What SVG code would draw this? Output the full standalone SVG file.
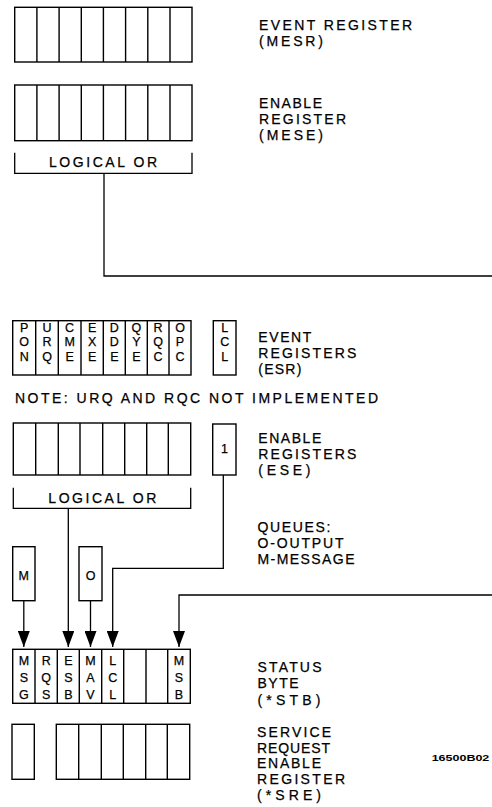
<svg xmlns="http://www.w3.org/2000/svg" width="492" height="807" viewBox="0 0 492 807">
<style>
.reg{fill:none;stroke:#000;stroke-width:1.4}
.ln{fill:none;stroke:#000;stroke-width:1.3}
.t{font-family:"Liberation Sans",Arial,sans-serif;font-size:14px;fill:#000;stroke:#000;stroke-width:0.25}
.c{font-family:"Liberation Sans",Arial,sans-serif;font-size:12.5px;fill:#000;stroke:#000;stroke-width:0.25;text-anchor:middle}
.id{font-family:"Liberation Sans",Arial,sans-serif;font-size:9px;font-weight:bold;fill:#000}
</style>
<defs>
<marker id="ah" viewBox="0 0 16 12" refX="16" refY="6" markerWidth="16" markerHeight="12" markerUnits="userSpaceOnUse" orient="auto">
<path d="M0,0 L16,6 L0,12 Z" fill="#000"/>
</marker>
</defs>
<rect width="492" height="807" fill="#fff"/>

<g id="mesr">
<rect class="reg" x="14.7" y="7.3" width="177.3" height="54.7"/>
<path class="reg" d="M36.9,7.3V62M59.1,7.3V62M81.3,7.3V62M103.4,7.3V62M125.6,7.3V62M147.8,7.3V62M170,7.3V62"/>
<text class="t" x="259" y="29.5" textLength="153" lengthAdjust="spacing">EVENT REGISTER</text>
<text class="t" x="259" y="45.7" textLength="64" lengthAdjust="spacing">(MESR)</text>
</g>

<g id="mese">
<rect class="reg" x="14.7" y="85" width="177.3" height="55.7"/>
<path class="reg" d="M36.9,85V140.7M59.1,85V140.7M81.3,85V140.7M103.4,85V140.7M125.6,85V140.7M147.8,85V140.7M170,85V140.7"/>
<text class="t" x="259" y="107.7" textLength="63" lengthAdjust="spacing">ENABLE</text>
<text class="t" x="259" y="124" textLength="87" lengthAdjust="spacing">REGISTER</text>
<text class="t" x="259" y="140.3" textLength="64" lengthAdjust="spacing">(MESE)</text>
</g>

<g id="or1">
<path class="ln" d="M14.7,152.7V173.3H192V152.7"/>
<text class="t" x="49" y="166.7" textLength="108" lengthAdjust="spacing">LOGICAL OR</text>
</g>

<g id="esr">
<rect class="reg" x="12.7" y="320.7" width="178.3" height="54.3"/>
<path class="reg" d="M35.7,320.7V375M58.3,320.7V375M81,320.7V375M103.3,320.7V375M125.3,320.7V375M147.3,320.7V375M169,320.7V375"/>
<g class="c">
<text x="24.2" y="331.5">P</text><text x="24.2" y="346">O</text><text x="24.2" y="361">N</text>
<text x="47" y="331.5">U</text><text x="47" y="346">R</text><text x="47" y="361">Q</text>
<text x="69.6" y="331.5">C</text><text x="69.6" y="346">M</text><text x="69.6" y="361">E</text>
<text x="92.1" y="331.5">E</text><text x="92.1" y="346">X</text><text x="92.1" y="361">E</text>
<text x="114.3" y="331.5">D</text><text x="114.3" y="346">D</text><text x="114.3" y="361">E</text>
<text x="136.3" y="331.5">Q</text><text x="136.3" y="346">Y</text><text x="136.3" y="361">E</text>
<text x="158.1" y="331.5">R</text><text x="158.1" y="346">Q</text><text x="158.1" y="361">C</text>
<text x="180" y="331.5">O</text><text x="180" y="346">P</text><text x="180" y="361">C</text>
</g>
</g>

<g id="lcl">
<rect class="reg" x="213.3" y="320.7" width="22.7" height="54.3"/>
<g class="c">
<text x="224.7" y="331.5">L</text><text x="224.7" y="346">C</text><text x="224.7" y="361">L</text>
</g>
<text class="t" x="258.3" y="341.7" textLength="53" lengthAdjust="spacing">EVENT</text>
<text class="t" x="258.3" y="358" textLength="98" lengthAdjust="spacing">REGISTERS</text>
<text class="t" x="258.3" y="373.5" textLength="43" lengthAdjust="spacing">(ESR)</text>
</g>

<g id="note">
<text class="t" x="15" y="402.7" textLength="363" lengthAdjust="spacing">NOTE: URQ AND RQC NOT IMPLEMENTED</text>
</g>

<g id="ese">
<rect class="reg" x="13.3" y="423" width="177.4" height="52"/>
<path class="reg" d="M35.7,423V475M58.3,423V475M80,423V475M102.7,423V475M124.7,423V475M146.7,423V475M168.3,423V475"/>
</g>

<g id="ese1">
<rect class="reg" x="212.7" y="424" width="23.3" height="51"/>
<text class="c" x="224.4" y="453">1</text>
<text class="t" x="258.3" y="442.7" textLength="63" lengthAdjust="spacing">ENABLE</text>
<text class="t" x="258.3" y="458.5" textLength="98" lengthAdjust="spacing">REGISTERS</text>
<text class="t" x="258.3" y="475" textLength="52" lengthAdjust="spacing">(ESE)</text>
</g>

<g id="or2">
<path class="ln" d="M13.3,487.7V508.3H190.7V487.7"/>
<text class="t" x="48.3" y="503.3" textLength="108" lengthAdjust="spacing">LOGICAL OR</text>
</g>

<g id="queues">
<text class="t" x="257.5" y="531.7" textLength="73" lengthAdjust="spacing">QUEUES:</text>
<text class="t" x="257.5" y="548.3" textLength="86" lengthAdjust="spacing">O-OUTPUT</text>
<text class="t" x="257.5" y="564.3" textLength="97" lengthAdjust="spacing">M-MESSAGE</text>
</g>

<g id="mq">
<rect class="reg" x="12.7" y="546.7" width="22.3" height="54"/>
<text class="c" x="23.8" y="580">M</text>
</g>

<g id="oq">
<rect class="reg" x="79" y="546.7" width="23" height="54"/>
<text class="c" x="90.5" y="580">O</text>
</g>

<g id="stb">
<rect class="reg" x="12.7" y="649.3" width="177.6" height="54"/>
<path class="reg" d="M35,649.3V703.3M57.3,649.3V703.3M79.3,649.3V703.3M101.7,649.3V703.3M123.7,649.3V703.3M146,649.3V703.3M167.7,649.3V703.3"/>
<g class="c">
<text x="23.9" y="664.5">M</text><text x="23.9" y="681.5">S</text><text x="23.9" y="699">G</text>
<text x="46.2" y="664.5">R</text><text x="46.2" y="681.5">Q</text><text x="46.2" y="699">S</text>
<text x="68.3" y="664.5">E</text><text x="68.3" y="681.5">S</text><text x="68.3" y="699">B</text>
<text x="90.5" y="664.5">M</text><text x="90.5" y="681.5">A</text><text x="90.5" y="699">V</text>
<text x="112.7" y="664.5">L</text><text x="112.7" y="681.5">C</text><text x="112.7" y="699">L</text>
<text x="179" y="664.5">M</text><text x="179" y="681.5">S</text><text x="179" y="699">B</text>
</g>
<text class="t" x="257.5" y="671.7" textLength="64" lengthAdjust="spacing">STATUS</text>
<text class="t" x="257.5" y="688.3" textLength="41" lengthAdjust="spacing">BYTE</text>
<text class="t" x="257.5" y="705" textLength="63" lengthAdjust="spacing">(*STB)</text>
</g>

<g id="sre">
<rect class="reg" x="12" y="724.3" width="22.3" height="55"/>
<rect class="reg" x="56.3" y="724.3" width="133.4" height="55"/>
<path class="reg" d="M78.7,724.3V779.3M101.3,724.3V779.3M123.3,724.3V779.3M145.7,724.3V779.3M167.3,724.3V779.3"/>
<text class="t" x="257" y="736.7" textLength="74" lengthAdjust="spacing">SERVICE</text>
<text class="t" x="257" y="752.7" textLength="73" lengthAdjust="spacing">REQUEST</text>
<text class="t" x="257" y="768.3" textLength="64" lengthAdjust="spacing">ENABLE</text>
<text class="t" x="257" y="784.3" textLength="88" lengthAdjust="spacing">REGISTER</text>
<text class="t" x="257" y="800.3" textLength="64" lengthAdjust="spacing">(*SRE)</text>
</g>

<g id="figid">
<text class="id" x="431.7" y="761" textLength="57.6" lengthAdjust="spacingAndGlyphs">16500B02</text>
</g>

<g id="connectors">
<path class="ln" d="M104,173.3V276H492"/>
<path class="ln" d="M23.8,600.7V647" marker-end="url(#ah)"/>
<path class="ln" d="M68.3,508.3V647" marker-end="url(#ah)"/>
<path class="ln" d="M90.5,600.7V647" marker-end="url(#ah)"/>
<path class="ln" d="M223.3,475V568.3H112.7V647" marker-end="url(#ah)"/>
<path class="ln" d="M492,595H179V647" marker-end="url(#ah)"/>
</g>
</svg>
